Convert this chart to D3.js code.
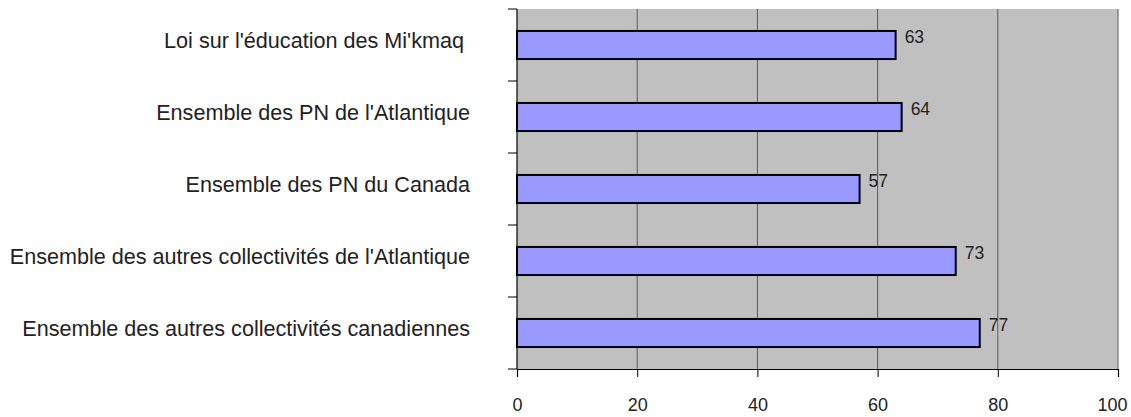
<!DOCTYPE html>
<html>
<head>
<meta charset="utf-8">
<script src="https://cdn.jsdelivr.net/npm/d3@7"></script>
<style>
  html, body { margin: 0; padding: 0; background: #fff; }
  svg { display: block; }
  text { font-family: "Liberation Sans", Arial, sans-serif; fill: #222; white-space: pre; }
</style>
</head>
<body>
<svg id="chart" width="1131" height="417"></svg>
<script>
// Categories (top to bottom) and their values
const categories = [
  "Loi sur l'éducation des Mi'kmaq ",
  "Ensemble des PN de l'Atlantique",
  "Ensemble des PN du Canada",
  "Ensemble des autres collectivités de l'Atlantique",
  "Ensemble des autres collectivités canadiennes"
];
const values = [63, 64, 57, 73, 77];
const xTicks = [0, 20, 40, 60, 80, 100];

const svg = d3.select("#chart");
const margin = { left: 517, right: 13, top: 9, bottom: 48 };
const W = 1131, H = 417;
const plotW = W - margin.left - margin.right;
const plotH = H - margin.top - margin.bottom;

const x = d3.scaleLinear().domain([0, 100]).range([margin.left, margin.left + plotW]);
const y = d3.scaleBand().domain(categories).range([margin.top, margin.top + plotH]).paddingInner(0.61).paddingOuter(0.305);
const yBands = d3.scaleBand().domain(categories).range([margin.top, margin.top + plotH]);

// plot background
svg.append("rect")
  .attr("x", x(0)).attr("y", margin.top)
  .attr("width", plotW).attr("height", plotH)
  .attr("fill", "#c0c0c0");

// vertical gridlines
svg.append("g").selectAll("line")
  .data(xTicks.filter(d => d > 0))
  .join("line")
  .attr("x1", d => x(d)).attr("x2", d => x(d))
  .attr("y1", margin.top).attr("y2", margin.top + plotH)
  .attr("stroke", "#5a5a5a").attr("stroke-width", 1);

// bars
svg.append("g").selectAll("rect")
  .data(values)
  .join("rect")
  .attr("x", x(0))
  .attr("y", (d, i) => y(categories[i]))
  .attr("width", d => x(d) - x(0))
  .attr("height", y.bandwidth())
  .attr("fill", "#9999ff")
  .attr("stroke", "#000")
  .attr("stroke-width", 2);

// value labels
svg.append("g").selectAll("text")
  .data(values)
  .join("text")
  .attr("x", d => x(d) + 9)
  .attr("y", (d, i) => y(categories[i]) + y.bandwidth() / 2 - 7)
  .attr("dominant-baseline", "middle")
  .attr("font-size", 17.5)
  .attr("fill", "#333")
  .text(d => d);

// x axis
const xAxis = svg.append("g")
  .attr("transform", `translate(0,${margin.top + plotH})`)
  .call(d3.axisBottom(x).tickValues(xTicks).tickSize(8).tickPadding(21));
xAxis.select(".domain").attr("stroke", "#000").attr("stroke-width", 1.2);
xAxis.selectAll(".tick line").attr("stroke", "#000");
xAxis.selectAll(".tick text").attr("font-size", 18).attr("fill", "#333")
  .attr("font-family", "Liberation Sans, Arial, sans-serif");
// keep the last tick label inside the page
xAxis.selectAll(".tick text").filter(d => d === 100).attr("dx", -6);

// y axis line and tick marks at band boundaries
svg.append("line")
  .attr("x1", x(0)).attr("x2", x(0))
  .attr("y1", margin.top).attr("y2", margin.top + plotH)
  .attr("stroke", "#000").attr("stroke-width", 1.2);
const bounds = categories.map(c => yBands(c)).concat([margin.top + plotH]);
svg.append("g").selectAll("line")
  .data(bounds)
  .join("line")
  .attr("x1", x(0) - 9).attr("x2", x(0))
  .attr("y1", d => d).attr("y2", d => d)
  .attr("stroke", "#000");

// category labels
svg.append("g").selectAll("text")
  .data(categories)
  .join("text")
  .attr("x", 470)
  .attr("y", d => yBands(d) + yBands.bandwidth() / 2 - 3)
  .attr("text-anchor", "end")
  .attr("dominant-baseline", "middle")
  .attr("font-size", 21.6)
  .attr("fill", "#222")
  .text(d => d);
</script>
</body>
</html>
